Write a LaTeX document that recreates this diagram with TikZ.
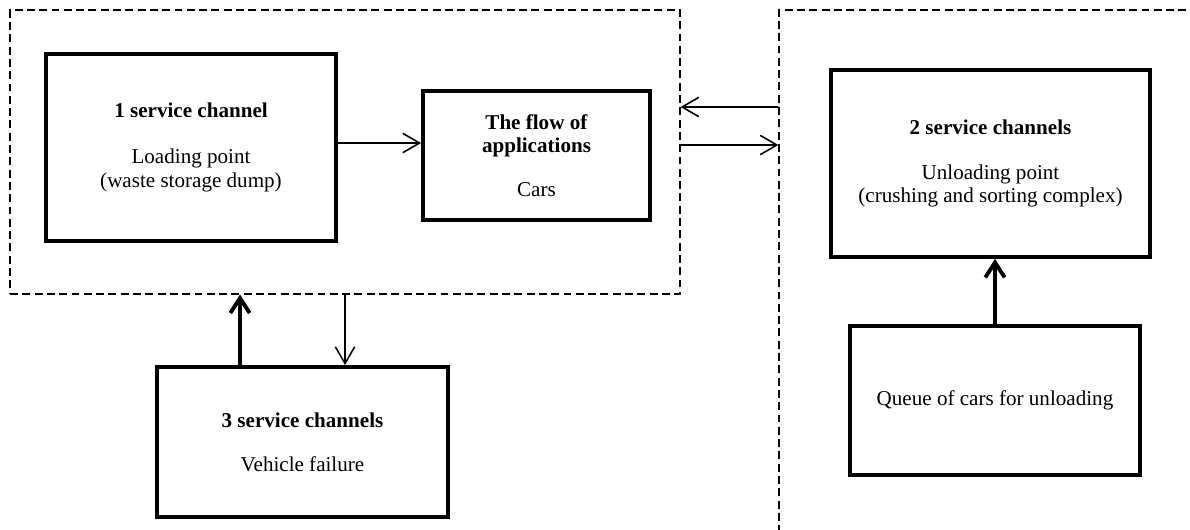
\documentclass[tikz,border=0pt]{standalone}
\usepackage{fontspec}
\setmainfont{Liberation Serif}
\usetikzlibrary{
  arrows.meta,
  positioning
}

\begin{document}
\begin{tikzpicture}[
    every node/.style = {align=center,
      font=\fontsize{12}{13.2}\selectfont},
    channel/.style = {shape=rectangle, draw, line width=2.2pt,
      inner sep=0pt},
    zone/.style = {shape=rectangle, draw, line width=0.6pt,
      dash pattern=on 4.5pt off 2.5pt, inner sep=0pt},
    flowline/.style = {line width=0.9pt,
      -{Straight Barb[length=9.5pt,width=11pt]}},
    heavyline/.style = {line width=2.2pt,
      -{Straight Barb[length=8.5pt,width=11pt,line width=2.2pt]}}]
  \useasboundingbox (0,0) rectangle (23.8,10.58);
  \clip (0,0) rectangle (23.8,10.58);

  % dashed zones
  \node[zone, minimum width=13.4cm, minimum height=5.68cm]
    (zoneA) at (6.9,7.54) {};
  \node[zone, minimum width=8.72cm, minimum height=10.88cm]
    (zoneB) at (19.94,4.94) {};

  % service channels
  \node[channel, minimum width=5.8cm, minimum height=3.74cm]
    (load) at (3.82,7.63)
    {\textbf{1 service channel}\\[13pt]
     Loading point\\(waste storage dump)};
  \node[channel, minimum width=4.54cm, minimum height=2.58cm]
    (flow) at (10.73,7.47)
    {\textbf{The flow of}\\\textbf{applications}\\[12pt] Cars};
  \node[channel, minimum width=6.38cm, minimum height=3.74cm]
    (unload) at (19.81,7.31)
    {\textbf{2 service channels}\\[12pt]
     Unloading point\\(crushing and sorting complex)};
  \node[channel, minimum width=5.8cm, minimum height=2.98cm]
    (queue) at (19.9,2.57)
    {Queue of cars for unloading};
  \node[channel, minimum width=5.82cm, minimum height=3.0cm]
    (failure) at (6.05,1.74)
    {\textbf{3 service channels}\\[12pt] Vehicle failure};

  \coordinate (up3) at ([xshift=-1.25cm]failure.north);
  \coordinate (down3) at ([xshift=0.85cm]failure.north);

  \draw[flowline] ([yshift=0.09cm]load.east) -- ([yshift=0.25cm]flow.west);
  \draw[flowline] ([yshift=3.5cm]zoneB.west) -- ([yshift=0.9cm]zoneA.east);
  \draw[flowline] ([yshift=0.14cm]zoneA.east) -- ([yshift=2.74cm]zoneB.west);
  \draw[heavyline] (up3) -- (up3 |- zoneA.south);
  \draw[flowline] (down3 |- zoneA.south) -- (down3);
  \draw[heavyline] (queue.north) -- (queue.north |- unload.south);
\end{tikzpicture}
\end{document}
